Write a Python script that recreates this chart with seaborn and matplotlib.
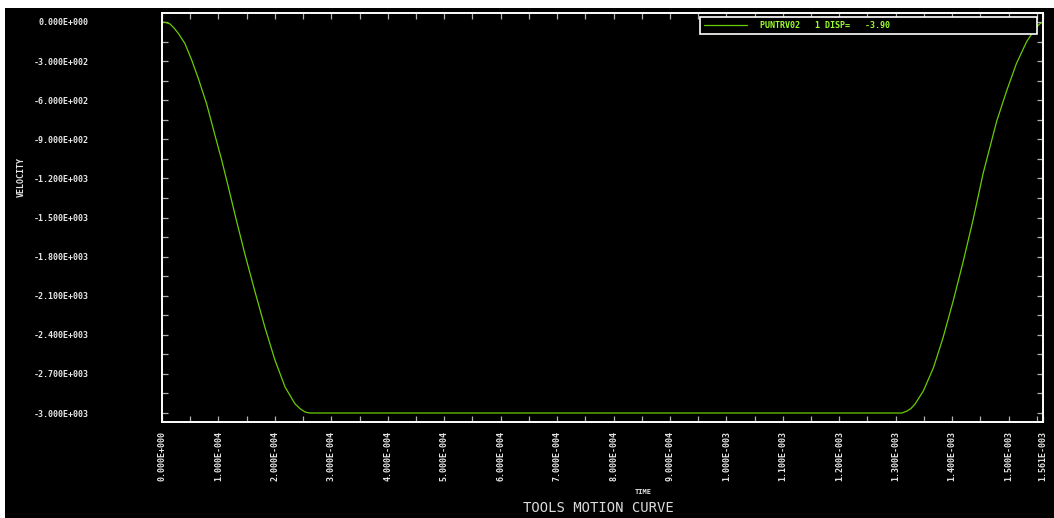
import numpy as np
import pandas as pd
import matplotlib
matplotlib.use("Agg")
import matplotlib.pyplot as plt
from matplotlib.patches import Rectangle
from matplotlib.ticker import FixedLocator, MultipleLocator, FuncFormatter
import seaborn as sns

# Punch velocity over one tool stroke (time in s, velocity in mm/s)
time_s = [
    0.0, 7.0e-6, 1.42e-5, 2.1e-5, 2.89e-5, 4.05e-5, 5.26e-5, 6.43e-5, 7.92e-5,
    9.39e-5, 1.058e-4, 1.175e-4, 1.30e-4, 1.471e-4, 1.648e-4, 1.825e-4,
    2.002e-4, 2.18e-4, 2.357e-4, 2.45e-4, 2.534e-4, 2.6e-4, 2.65e-4,
    1.311e-3, 1.32e-3, 1.327e-3, 1.334e-3, 1.349e-3, 1.367e-3, 1.384e-3,
    1.402e-3, 1.42e-3, 1.4375e-3, 1.455e-3, 1.479e-3, 1.497e-3, 1.514e-3,
    1.532e-3, 1.542e-3, 1.55e-3, 1.556e-3, 1.561e-3,
]
velocity = [
    0, -4, -15, -45, -87, -164, -292, -433, -630,
    -870, -1060, -1265, -1490, -1785, -2070, -2345,
    -2595, -2800, -2930, -2968, -2992, -2999, -3000,
    -3000, -2985, -2965, -2933, -2831, -2651, -2421,
    -2138, -1831, -1510, -1160, -760, -523, -318,
    -151, -85, -36, -12, 0,
]

y_ticks = [0, -300, -600, -900, -1200, -1500, -1800, -2100, -2400, -2700, -3000]
x_ticks = [0.0, 1e-4, 2e-4, 3e-4, 4e-4, 5e-4, 6e-4, 7e-4, 8e-4, 9e-4,
           1.0e-3, 1.1e-3, 1.2e-3, 1.3e-3, 1.4e-3, 1.5e-3, 1.561e-3]
x_limits = (0.0, 1.561e-3)
y_limits = (-3069, 69)

series_name = "PUNTRV02   1 DISP=   -3.90"
title_text = "TOOLS MOTION CURVE"
x_title = "TIME"
y_title = "VELOCITY"

df = pd.DataFrame({"time": time_s, "velocity": velocity})

sns.set_style("dark")
plt.rcParams["font.family"] = ["DejaVu Sans Mono", "DejaVu Sans"]

curve_color = "#6acc00"
legend_text_color = "#9cff2e"
label_color = "#e6e6e6"


def sci3(value, pos=None):
    if value == 0:
        return "0.000E+000"
    exp = int(np.floor(np.log10(abs(value))))
    mant = value / 10 ** exp
    if abs(round(mant, 3)) >= 10:
        mant /= 10
        exp += 1
    sign = "+" if exp >= 0 else "-"
    return f"{mant:.3f}E{sign}{abs(exp):03d}"


W, H = 1054, 518
fig = plt.figure(figsize=(W / 100, H / 100), dpi=100)
fig.patch.set_facecolor("white")
fig.add_artist(Rectangle((5 / W, 0), 1, (H - 8) / H, transform=fig.transFigure,
                         facecolor="black", edgecolor="none", zorder=0))

ax = fig.add_axes([162 / W, (H - 422) / H, 881 / W, 409 / H])
ax.set_facecolor("black")

sns.lineplot(data=df, x="time", y="velocity", ax=ax, color=curve_color,
             linewidth=0.9, label=series_name, sort=True)

ax.set_xlim(*x_limits)
ax.set_ylim(*y_limits)

ax.xaxis.set_major_locator(FixedLocator(x_ticks))
ax.xaxis.set_minor_locator(MultipleLocator(5e-5))
ax.yaxis.set_major_locator(FixedLocator(y_ticks))
ax.yaxis.set_minor_locator(MultipleLocator(150))
ax.xaxis.set_major_formatter(FuncFormatter(sci3))
ax.yaxis.set_major_formatter(FuncFormatter(sci3))

for spine in ax.spines.values():
    spine.set_color("white")
    spine.set_linewidth(1.4)
    spine.set_visible(True)

ax.tick_params(axis="both", which="both", direction="in", length=4, width=0.9,
               color="#b0b0b0", top=True, right=True, bottom=True, left=True)
ax.tick_params(axis="y", which="major", pad=53, labelsize=6, labelcolor=label_color)
ax.tick_params(axis="x", which="major", pad=6.5, labelsize=6, labelcolor=label_color,
               labelrotation=90)
for lab in ax.get_yticklabels() + ax.get_xticklabels():
    lab.set_fontweight("bold")

ax.grid(False)

ax.set_xlabel(x_title, fontsize=5, fontweight="bold", color=label_color)
ax.set_ylabel(y_title, fontsize=6, fontweight="bold", color=label_color)
ax.xaxis.set_label_coords(0.5465, -0.165)
ax.yaxis.set_label_coords(-0.155, 0.599)

leg = ax.legend(loc="upper left", bbox_to_anchor=(0.6107, 0.951, 0.3825, 0.039),
                mode="expand", borderaxespad=0, frameon=True, fancybox=False,
                prop={"family": "DejaVu Sans Mono", "weight": "bold", "size": 6},
                handlelength=5.2, handletextpad=1.6, borderpad=0.45)
frame = leg.get_frame()
frame.set_facecolor("black")
frame.set_edgecolor("white")
frame.set_linewidth(1.2)
frame.set_alpha(1)
for txt in leg.get_texts():
    txt.set_color(legend_text_color)

fig.text(598 / W, 1 - 508 / H, title_text, ha="center", va="center",
         fontsize=10, color="#dcdcdc", family="DejaVu Sans Mono")

fig.savefig("out.png", dpi=100, facecolor=fig.get_facecolor())
